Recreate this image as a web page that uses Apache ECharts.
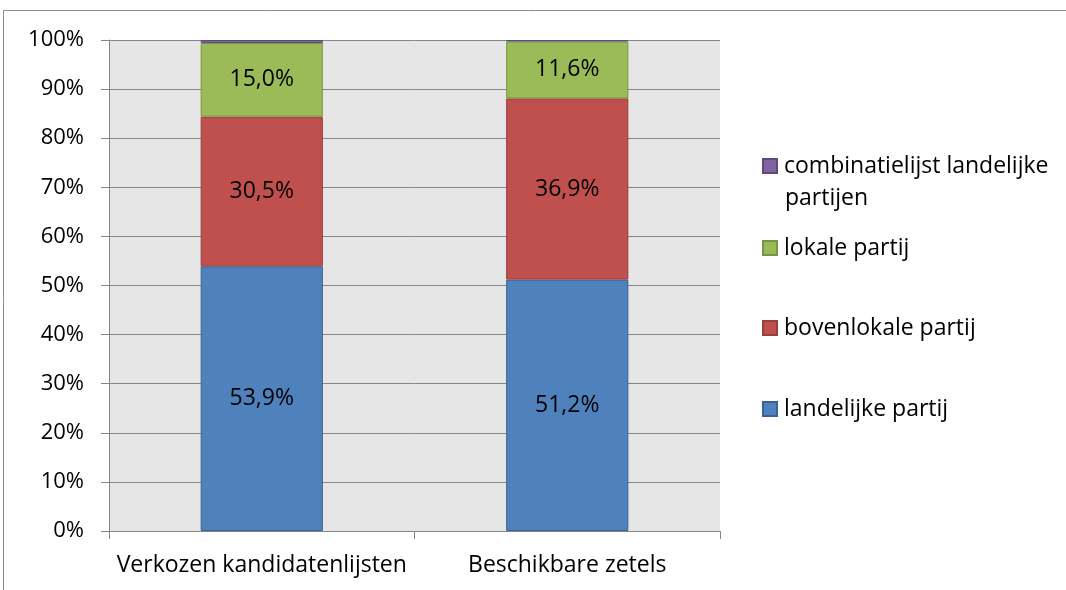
<!DOCTYPE html>
<html>
<head>
<meta charset="utf-8">
<script src="https://cdn.jsdelivr.net/npm/echarts@6/dist/echarts.min.js"></script>
<style>
  html, body { margin: 0; padding: 0; background: #fff; }
  #chart { width: 1066px; height: 590px; }
</style>
</head>
<body>
<div id="chart"></div>
<script>
// categories and values (percent)
const categories = ['Verkozen kandidatenlijsten', 'Beschikbare zetels'];
const landelijke = [53.9, 51.2];
const bovenlokale = [30.5, 36.9];
const lokale = [15.0, 11.6];
const combinatie = [0.6, 0.3];

const FONT = '"Open Sans", "Noto Sans", sans-serif';

const chart = echarts.init(document.getElementById('chart'));

function bar(name, data, color, border, showLabel) {
  return {
    name: name,
    type: 'bar',
    stack: 'totaal',
    barWidth: '40%',
    data: data,
    itemStyle: { color: color, borderColor: border, borderWidth: 1 },
    label: {
      show: showLabel,
      position: 'inside',
      color: '#000',
      fontFamily: FONT,
      fontSize: 23,
      formatter: p => p.value.toFixed(1).replace('.', ',') + '%'
    },
    emphasis: { disabled: true }
  };
}

// one legend per item so the vertical spacing matches the original
function legendAt(name, top) {
  return {
    data: [name],
    orient: 'vertical',
    left: 762,
    top: top,
    padding: 0,
    itemWidth: 14,
    itemHeight: 14,
    itemGap: 0,
    icon: 'rect',
    selectedMode: false,
    formatter: n => n.split('\n')[0],
    textStyle: { fontFamily: FONT, fontSize: 23, color: '#000', lineHeight: 30, padding: [0, 0, 0, 2] }
  };
}

const option = {
  animation: false,
  graphic: [
    {
      type: 'rect',
      shape: { x: 3.5, y: 10.5, width: 1100, height: 600 },
      style: { fill: 'none', stroke: '#8c8c8c', lineWidth: 1 },
      silent: true
    },
    {
      type: 'text',
      left: 785,
      top: 187,
      style: { text: 'partijen', fill: '#000', font: '23px "Open Sans", "Noto Sans", sans-serif' },
      silent: true
    }
  ],
  legend: [
    legendAt('combinatielijst landelijke\npartijen', 151),
    legendAt('lokale partij', 233),
    legendAt('bovenlokale partij', 313),
    legendAt('landelijke partij', 394)
  ],
  grid: { left: 109, right: 346, top: 40, bottom: 59, show: true, backgroundColor: '#e6e6e6', borderWidth: 0 },
  xAxis: {
    type: 'category',
    data: categories,
    axisLine: { lineStyle: { color: '#868686' } },
    axisTick: { show: true, length: 8, lineStyle: { color: '#868686' } },
    axisLabel: { color: '#000', fontFamily: FONT, fontSize: 23, margin: 23, interval: 0 }
  },
  yAxis: {
    type: 'value',
    min: 0,
    max: 100,
    interval: 10,
    axisLine: { show: true, lineStyle: { color: '#868686' } },
    axisTick: { show: true, length: 8, lineStyle: { color: '#868686' } },
    axisLabel: { color: '#000', fontFamily: FONT, fontSize: 22, margin: 25, formatter: v => v + '%' },
    splitLine: { lineStyle: { color: '#868686' } }
  },
  series: [
    bar('landelijke partij', landelijke, '#4f81bd', '#3a6395', true),
    bar('bovenlokale partij', bovenlokale, '#c0504d', '#983e3b', true),
    bar('lokale partij', lokale, '#9bbb59', '#789545', true),
    bar('combinatielijst landelijke\npartijen', combinatie, '#8064a2', '#5f4a7a', false)
  ]
};

chart.setOption(option);
</script>
</body>
</html>
